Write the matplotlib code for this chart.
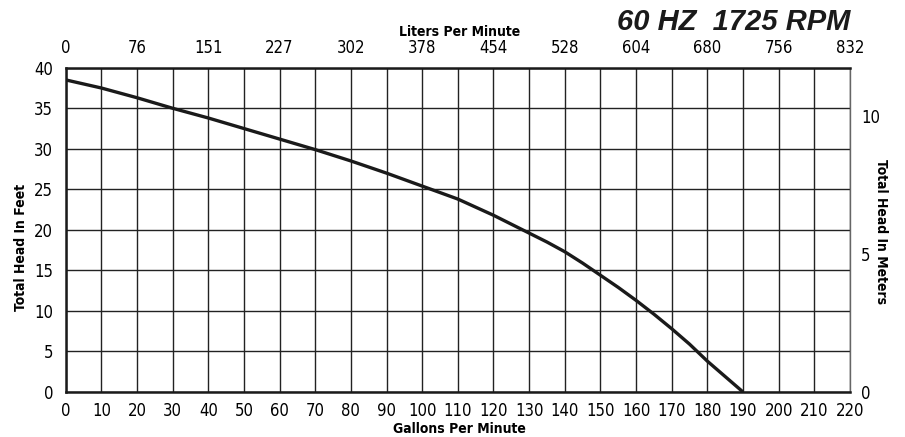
import matplotlib
matplotlib.use('Agg')
import matplotlib.pyplot as plt

plt.rcParams['font.family'] = ['DejaVu Sans']
plt.rcParams['font.stretch'] = 'condensed'

# pump curve
gpm = [0, 10, 20, 30, 40, 50, 60, 70, 80, 90, 100, 105, 110, 115, 120, 125, 130, 135, 140,
       145, 150, 155, 160, 165, 170, 175, 180, 185, 190]
head_ft = [38.5, 37.5, 36.3, 35.0, 33.8, 32.5, 31.2, 29.9, 28.5, 27.0, 25.4, 24.6, 23.8, 22.8,
           21.8, 20.7, 19.6, 18.5, 17.3, 15.9, 14.4, 12.9, 11.3, 9.6, 7.8, 5.9, 3.8, 1.9, 0.0]

gpm_ticks = list(range(0, 221, 10))
lpm_ticks = list(range(0, 221, 20))
lpm_labels = ['0', '76', '151', '227', '302', '378', '454', '528', '604', '680', '756', '832']
ft_ticks = list(range(0, 41, 5))
m_ticks = [0, 5, 10]

fig = plt.figure(figsize=(9.05, 4.37), dpi=100)
ax = fig.add_axes([0.0726, 0.103, 0.8666, 0.742])

ax.set_xlim(0, 220)
ax.set_ylim(0, 40)
ax.set_xticks(gpm_ticks)
ax.set_yticks(ft_ticks)
ax.grid(True, color='#222222', linewidth=1.0)
ax.tick_params(axis='x', length=0, labelsize=12, pad=7)
ax.tick_params(axis='y', length=0, labelsize=12, pad=9)
ax.plot(gpm, head_ft, color='#1a1a1a', linewidth=2.4, solid_capstyle='butt')

for side in ['top', 'left', 'bottom']:
    ax.spines[side].set_linewidth(1.8)
    ax.spines[side].set_color('#1a1a1a')
ax.spines['right'].set_linewidth(1.0)
ax.spines['right'].set_color('#666666')

# top axis: liters per minute
axt = ax.twiny()
axt.set_xlim(ax.get_xlim())
axt.set_xticks(lpm_ticks)
axt.set_xticklabels(lpm_labels)
axt.tick_params(length=0, labelsize=12, pad=8)

# right axis: meters
axr = ax.twinx()
axr.set_ylim(0, 40 / 3.4)
axr.set_yticks(m_ticks)
axr.tick_params(length=0, labelsize=12, pad=8)
for a in (axt, axr):
    for s in a.spines.values():
        s.set_visible(False)

fig.text(0.508, 1 - 32 / 437, 'Liters Per Minute', ha='center', va='center',
         fontsize=10, fontweight='bold')
fig.text(0.508, 1 - 429 / 437, 'Gallons Per Minute', ha='center', va='center',
         fontsize=10, fontweight='bold')
fig.text(21 / 905, 1 - 247 / 437, 'Total Head In Feet', ha='center', va='center',
         rotation=90, fontsize=10, fontweight='bold')
fig.text(881 / 905, 1 - 232 / 437, 'Total Head In Meters', ha='center', va='center',
         rotation=-90, fontsize=10, fontweight='bold')
fig.text(850 / 905, 1 - 22 / 437, '60 HZ  1725 RPM', ha='right', va='center',
         fontsize=21, fontweight='bold', fontstyle='italic', family='Liberation Sans',
         stretch='normal', color='#1a1a1a')

fig.savefig('out.png', dpi=100)
